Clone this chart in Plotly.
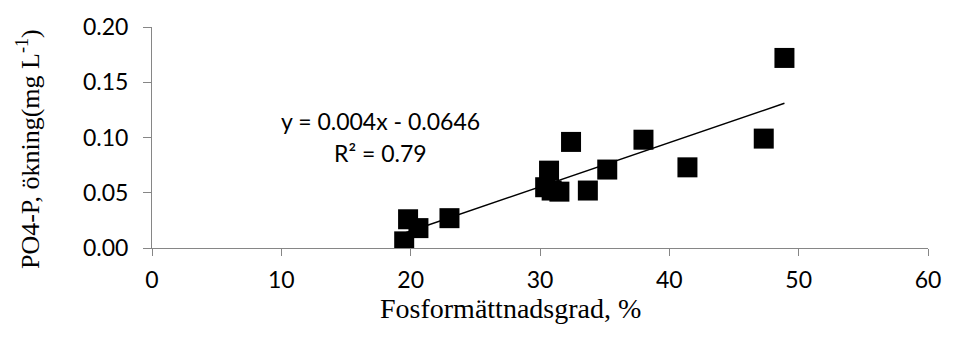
import plotly.graph_objects as go
import numpy as np

x_sat = [19.5, 19.8, 20.6, 23.0, 30.4, 30.7, 30.9, 31.5, 32.4, 33.7, 35.2, 38.0, 41.4, 47.3, 48.9]
y_po4 = [0.006, 0.026, 0.018, 0.027, 0.055, 0.070, 0.052, 0.051, 0.096, 0.052, 0.071, 0.098, 0.073, 0.099, 0.172]
slope = 0.004
intercept = -0.0646
r2 = 0.79

xt = np.array([min(x_sat), max(x_sat)])
yt = slope * xt + intercept

sans = "Lato, Open Sans, sans-serif"
serif = "Liberation Serif, Times New Roman, serif"

fig = go.Figure()
fig.add_trace(go.Scatter(x=xt, y=yt, mode="lines", line=dict(color="black", width=1.5), showlegend=False, hoverinfo="skip"))
fig.add_trace(go.Scatter(x=x_sat, y=y_po4, mode="markers",
                         marker=dict(symbol="square", size=20, color="black"), showlegend=False))

fig.add_annotation(x=17.7, y=0.115, xref="x", yref="y", showarrow=False,
                   text=f"y = {slope}x - {abs(intercept)}",
                   font=dict(family=sans, size=23, color="black"))
fig.add_annotation(x=17.7, y=0.086, xref="x", yref="y", showarrow=False,
                   text=f"R² = {r2}",
                   font=dict(family=sans, size=23, color="black"))

fig.add_annotation(x=0.462, y=0, xref="paper", yref="paper", yanchor="top", yshift=-43,
                   showarrow=False, text="Fosformättnadsgrad, %",
                   font=dict(family=serif, size=28, color="black"))
fig.add_annotation(x=-0.16, y=0.447, xref="paper", yref="paper", xanchor="center", yanchor="middle",
                   textangle=-90, showarrow=False, text="PO4-P, ökning(mg L<sup>-1</sup>)",
                   font=dict(family=serif, size=26, color="black"))

tickfont = dict(family=sans, size=23, color="black")
fig.update_layout(
    width=953, height=338,
    margin=dict(l=152, r=16, t=20, b=90),
    plot_bgcolor="white", paper_bgcolor="white",
    xaxis=dict(range=[0, 60], dtick=10, showgrid=False, zeroline=False, showline=True, linecolor="#868686",
               ticks="outside", ticklen=7, tickcolor="#868686", tickfont=tickfont, ticklabelstandoff=4),
    yaxis=dict(range=[0, 0.2], dtick=0.05, tickformat=".2f", showgrid=False, zeroline=False, showline=True, linecolor="#868686",
               ticks="outside", ticklen=8, tickcolor="#868686", tickfont=tickfont, ticklabelstandoff=10),
)
fig.write_html("out.html", config={"displayModeBar": False},
               post_script="document.body.style.margin='0px';document.body.style.overflow='hidden';")
